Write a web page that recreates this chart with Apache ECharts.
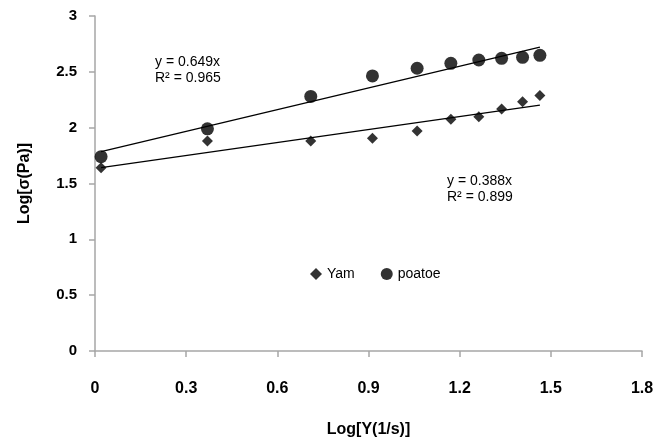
<!DOCTYPE html>
<html>
<head>
<meta charset="utf-8">
<script src="https://cdn.jsdelivr.net/npm/echarts@6/dist/echarts.min.js"></script>
<style>
  html, body { margin: 0; padding: 0; background: #fff; }
  #chart { width: 659px; height: 445px; }
</style>
</head>
<body>
<div id="chart"></div>
<script>
// shear rate (log) shared by both samples
const logRate = [0.02, 0.37, 0.71, 0.913, 1.06, 1.171, 1.263, 1.338, 1.407, 1.464]
const yamStress = [1.64, 1.88, 1.88, 1.905, 1.97, 2.075, 2.098, 2.167, 2.233, 2.287]
const potatoStress = [1.74, 1.99, 2.28, 2.463, 2.532, 2.576, 2.606, 2.621, 2.63, 2.648]

// linear trend lines (slope, intercept)
const yamFit = [0.388, 1.634]
const potatoFit = [0.649, 1.772]

const xTicks = [0, 0.3, 0.6, 0.9, 1.2, 1.5, 1.8]
const yTicks = [0, 0.5, 1, 1.5, 2, 2.5, 3]

const font = 'Liberation Sans'

function pairs (xs, ys) {
  return xs.map((x, i) => [x, ys[i]])
}

function trend (fit) {
  const x0 = logRate[0]
  const x1 = logRate[logRate.length - 1]
  return [[x0, fit[0] * x0 + fit[1]], [x1, fit[0] * x1 + fit[1]]]
}

const chart = echarts.init(document.getElementById('chart'))

const axisStyle = {
  axisLine: { show: true, onZero: false, lineStyle: { color: '#a6a6a6', width: 1.5 } },
  axisTick: { show: true, inside: false, length: 6, lineStyle: { color: '#a6a6a6', width: 1.5 } },
  splitLine: { show: false }
}

const option = {
  animation: false,
  textStyle: { fontFamily: font },
  grid: { left: 95, right: 17, top: 16, bottom: 94, containLabel: false },
  xAxis: Object.assign({
    type: 'value',
    min: xTicks[0],
    max: xTicks[xTicks.length - 1],
    interval: 0.3,
    name: 'Log[Y(1/s)]',
    nameLocation: 'middle',
    nameGap: 71,
    nameTextStyle: { fontFamily: font, fontWeight: 'bold', fontSize: 16, color: '#000' },
    axisLabel: {
      margin: 30,
      fontFamily: font,
      fontWeight: 'bold',
      fontSize: 16,
      color: '#000',
      formatter: (v) => String(Math.round(v * 10) / 10)
    }
  }, axisStyle),
  yAxis: Object.assign({
    type: 'value',
    min: yTicks[0],
    max: yTicks[yTicks.length - 1],
    interval: 0.5,
    name: 'Log[σ(Pa)]',
    nameLocation: 'middle',
    nameGap: 62,
    nameRotate: 90,
    nameTextStyle: { fontFamily: font, fontWeight: 'bold', fontSize: 16, color: '#000' },
    axisLabel: {
      margin: 18,
      fontFamily: font,
      fontWeight: 'bold',
      fontSize: 15,
      color: '#000'
    }
  }, axisStyle),
  legend: {
    data: [
      { name: 'Yam', icon: 'diamond' },
      { name: 'poatoe', icon: 'circle' }
    ],
    left: 305,
    top: 262,
    itemWidth: 12,
    itemHeight: 12,
    itemGap: 26,
    textStyle: { fontFamily: font, fontSize: 14, color: '#000' }
  },
  graphic: [
    { type: 'text', left: 155, top: 55, style: { text: 'y = 0.649x', fontFamily: font, fontSize: 14, fill: '#000' } },
    { type: 'text', left: 155, top: 71, style: { text: 'R² = 0.965', fontFamily: font, fontSize: 14, fill: '#000' } },
    { type: 'text', left: 447, top: 174, style: { text: 'y = 0.388x', fontFamily: font, fontSize: 14, fill: '#000' } },
    { type: 'text', left: 447, top: 190, style: { text: 'R² = 0.899', fontFamily: font, fontSize: 14, fill: '#000' } }
  ],
  series: [
    {
      name: 'Yam fit',
      type: 'line',
      data: trend(yamFit),
      symbol: 'none',
      lineStyle: { color: '#000', width: 1.3 },
      z: 1
    },
    {
      name: 'poatoe fit',
      type: 'line',
      data: trend(potatoFit),
      symbol: 'none',
      lineStyle: { color: '#000', width: 1.3 },
      z: 1
    },
    {
      name: 'Yam',
      type: 'scatter',
      data: pairs(logRate, yamStress),
      symbol: 'diamond',
      symbolSize: 11,
      itemStyle: { color: '#000' },
      z: 3
    },
    {
      name: 'poatoe',
      type: 'scatter',
      data: pairs(logRate, potatoStress),
      symbol: 'circle',
      symbolSize: 13,
      itemStyle: { color: '#000' },
      z: 3
    }
  ]
}

chart.setOption(option)
</script>
</body>
</html>
